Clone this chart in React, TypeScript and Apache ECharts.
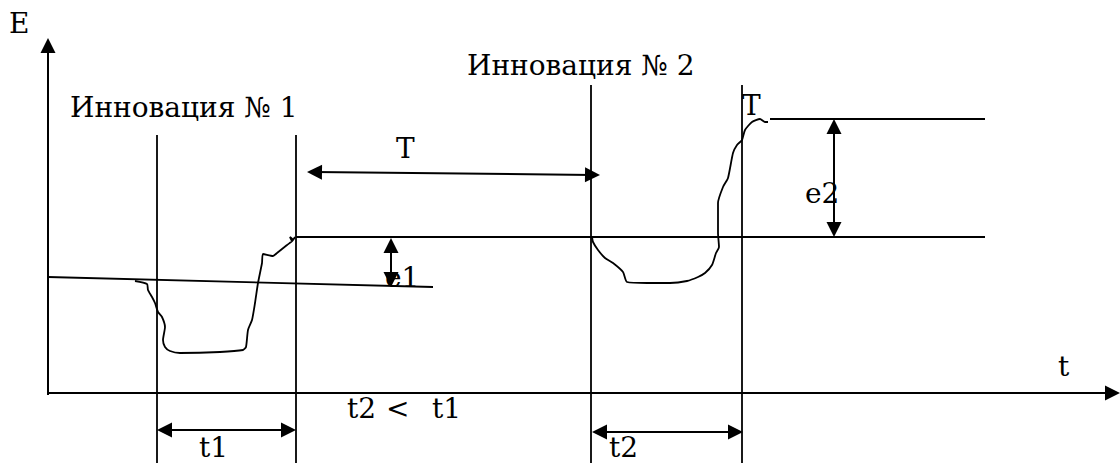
import React, { useEffect, useRef } from "react";
import * as echarts from "echarts";

// Diagram frame: origin at the corner of the E and t axes, one unit per pixel.
const X_RANGE = [-48, 1072];
const Y_RANGE = [-70, 393];

// Axes (tips of the arrows)
const axisE = [[0, -2], [0, 355]];
const axisT = [[0, 0], [1072, 0]];

// Innovation boundary verticals
const innovationLines = [
  [[109, 258], [109, -70]],
  [[248, 258], [248, -70]],
  [[543, 308], [543, -70]],
  [[694, 308], [694, -70]],
];

// Efficiency levels
const levelBase = [[0, 116], [385, 106]];
const level2 = [[248, 156], [937, 156]];
const level3 = [[722, 274], [937, 274]];

// Hand-drawn transition curves
const curve1 = [
  [87, 112], [99, 109], [100, 103], [104, 96], [107, 90], [110, 81], [114, 76],
  [117, 66], [115, 53], [117, 46], [122, 42], [132, 40], [172, 41], [195, 43],
  [198, 46], [200, 63], [204, 73], [207, 90], [210, 110], [214, 130], [215, 139],
  [225, 137], [229, 140], [239, 148], [245, 153], [242, 156], [244, 152], [247, 156],
];
const curve2 = [
  [544, 156], [545, 151], [550, 143], [557, 135], [565, 130], [575, 121], [579, 111],
  [599, 110], [622, 110], [639, 112], [650, 116], [657, 120], [664, 128], [668, 140],
  [671, 146], [670, 160], [670, 173], [670, 190], [675, 206], [680, 215], [685, 240],
  [689, 248], [694, 253], [697, 263], [704, 271], [712, 274], [717, 271], [720, 271],
];

// Double-headed dimension arrows (tip to tip)
const dimArrows = [
  [[259, 221], [552, 218]], // T
  [[343, 155], [343, 106]], // e1
  [[786, 274], [786, 156]], // e2
  [[109, -37], [248, -37]], // t1
  [[544, -39], [695, -39]], // t2
];

// Labels
const labels = [
  { text: "E", x: 9, y: 23 },
  { text: "Инновация № 1", x: 70, y: 107 },
  { text: "Инновация № 2", x: 467, y: 65 },
  { text: "T", x: 396, y: 148 },
  { text: "T", x: 742, y: 105 },
  { text: "e2", x: 805, y: 193 },
  { text: "e1", x: 385, y: 277 },
  { text: "t", x: 1058, y: 366 },
  { text: "t2", x: 347, y: 408 },
  { text: "<", x: 386, y: 408 },
  { text: "t1", x: 432, y: 408 },
  { text: "t1", x: 199, y: 447 },
  { text: "t2", x: 609, y: 447 },
];

const HEAD = 15;
const FONT_FAMILY = "DejaVu Serif";
const FONT_SIZE = 28;

function pull(p: number[], q: number[], d: number) {
  const dx = q[0] - p[0];
  const dy = q[1] - p[1];
  const L = Math.hypot(dx, dy);
  return [p[0] + (dx / L) * d, p[1] + (dy / L) * d];
}

export default function App() {
  const ref = useRef<HTMLDivElement>(null);
  useEffect(() => {
    if (!ref.current) return;
    const chart = echarts.init(ref.current, null, { renderer: "svg" });
    const black = "#000";
    const lineSeries = (data: number[][], width = 2, smooth: number | boolean = false) => ({
      type: "line",
      data,
      showSymbol: false,
      symbol: "none",
      smooth,
      silent: true,
      lineStyle: { color: black, width },
    });
    const series: any[] = [];
    innovationLines.forEach((l) => series.push(lineSeries(l, 1.8)));
    series.push(lineSeries(levelBase, 1.8));
    series.push(lineSeries(level2, 1.8));
    series.push(lineSeries(level3, 1.8));
    series.push(lineSeries(curve1, 1.8, 0.2));
    series.push(lineSeries(curve2, 1.8, 0.2));
    series.push({
      type: "lines",
      coordinateSystem: "cartesian2d",
      silent: true,
      symbol: ["none", "triangle"],
      symbolSize: [14, HEAD],
      lineStyle: { color: black, width: 2, opacity: 1 },
      data: [axisE, axisT].map(([a, b]) => ({ coords: [a, pull(b, a, HEAD / 2)] })),
    });
    series.push({
      type: "lines",
      coordinateSystem: "cartesian2d",
      silent: true,
      symbol: ["triangle", "triangle"],
      symbolSize: [15, HEAD],
      lineStyle: { color: black, width: 2, opacity: 1 },
      data: dimArrows.map(([a, b]) => ({ coords: [pull(a, b, HEAD / 2), pull(b, a, HEAD / 2)] })),
    });
    chart.setOption({
      animation: false,
      backgroundColor: "#fff",
      grid: { left: 0, right: 0, top: 0, bottom: 0 },
      xAxis: { type: "value", min: X_RANGE[0], max: X_RANGE[1], show: false },
      yAxis: { type: "value", min: Y_RANGE[0], max: Y_RANGE[1], show: false },
      series,
      graphic: labels.map((l) => ({
        type: "text",
        x: l.x,
        y: l.y,
        silent: true,
        z: 100,
        style: {
          text: l.text,
          fill: black,
          fontSize: FONT_SIZE,
          fontFamily: FONT_FAMILY,
          align: "left",
          verticalAlign: "middle",
        },
      })),
    });
    return () => chart.dispose();
  }, []);
  return (
    <div
      ref={ref}
      style={{ position: "absolute", left: 0, top: 0, width: 1120, height: 463, background: "#fff" }}
    />
  );
}
